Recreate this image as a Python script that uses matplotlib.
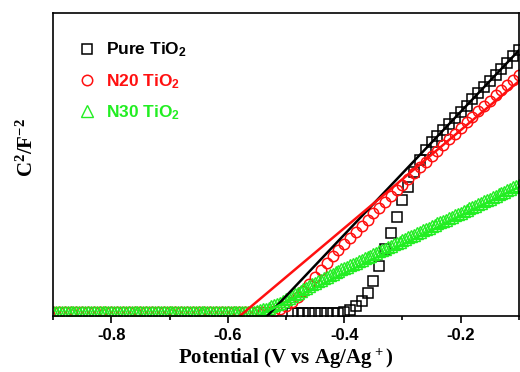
import matplotlib
matplotlib.use("Agg")
import matplotlib.pyplot as plt
import numpy as np
from matplotlib.ticker import MultipleLocator

# Mott-Schottky data (C^-2 in arbitrary units, 0..1 = axis height)
potential = np.round(np.arange(-0.90, -0.0999, 0.01), 2)          # V vs Ag/Ag+
potential_fine = np.round(np.arange(-0.90, -0.0999, 0.005), 3)

pure_v = np.round(np.arange(-0.49, -0.0999, 0.01), 2)
pure = [0.010, 0.010, 0.010, 0.010, 0.010, 0.010, 0.010, 0.010, 0.010, 0.011,
        0.020, 0.033, 0.050, 0.077, 0.116, 0.165, 0.221, 0.275, 0.328, 0.381,
        0.425, 0.475, 0.515, 0.548, 0.573, 0.593, 0.613, 0.633, 0.654, 0.674,
        0.694, 0.715, 0.735, 0.755, 0.775, 0.796, 0.816, 0.836, 0.857, 0.877]

n20 = [0.012, 0.012, 0.012, 0.012, 0.012, 0.012, 0.012, 0.012, 0.012, 0.012,
       0.012, 0.012, 0.012, 0.012, 0.012, 0.012, 0.012, 0.012, 0.012, 0.012,
       0.012, 0.012, 0.012, 0.012, 0.012, 0.012, 0.012, 0.012, 0.012, 0.012,
       0.012, 0.012, 0.012, 0.012, 0.012, 0.012, 0.012, 0.013, 0.016, 0.022,
       0.032, 0.046, 0.063, 0.083, 0.105, 0.128, 0.151, 0.174, 0.196, 0.217,
       0.238, 0.258, 0.278, 0.298, 0.318, 0.338, 0.357, 0.376, 0.395, 0.414,
       0.433, 0.452, 0.471, 0.490, 0.509, 0.527, 0.545, 0.564, 0.583, 0.602,
       0.621, 0.640, 0.658, 0.676, 0.694, 0.711, 0.728, 0.745, 0.762, 0.778,
       0.794]

n30 = [0.012] * 68 + [
    0.013, 0.014, 0.016, 0.018, 0.021, 0.024, 0.027, 0.031, 0.035, 0.040,
    0.044, 0.049, 0.054, 0.060, 0.065, 0.071, 0.076, 0.082, 0.087, 0.093,
    0.098, 0.104, 0.109, 0.114, 0.119, 0.124, 0.129, 0.134, 0.139, 0.144,
    0.148, 0.153, 0.157, 0.162, 0.167, 0.171, 0.176, 0.180, 0.185, 0.190,
    0.194, 0.199, 0.203, 0.208, 0.213, 0.217, 0.222, 0.226, 0.231, 0.236,
    0.240, 0.245, 0.249, 0.254, 0.259, 0.263, 0.268, 0.272, 0.277, 0.282,
    0.286, 0.291, 0.295, 0.300, 0.305, 0.309, 0.314, 0.318, 0.323, 0.328,
    0.332, 0.337, 0.341, 0.346, 0.351, 0.355, 0.360, 0.364, 0.369, 0.374,
    0.378, 0.383, 0.387, 0.392, 0.397, 0.401, 0.406, 0.410, 0.415, 0.420,
    0.424, 0.428, 0.433]

# linear fits: (x at C^-2 = 0, x end, y end)
fit_pure = ([-0.532, -0.10], [0.0, 0.877])
fit_n20 = ([-0.579, -0.10], [0.0, 0.775])
fit_n30 = ([-0.548, -0.10], [0.0, 0.425])

labels = ['Pure TiO$_2$', 'N20 TiO$_2$', 'N30 TiO$_2$']
c_black, c_red, c_green = 'black', '#ff1010', '#22ee22'

plt.rcParams['mathtext.default'] = 'regular'
plt.rcParams['axes.unicode_minus'] = False

fig = plt.figure(figsize=(5.2, 3.72), dpi=100)
ax = fig.add_axes([0.102, 0.151, 0.896, 0.814])

ax.plot(pure_v, pure, ls='none', marker='s', ms=7, mfc='none', mec=c_black, mew=1.1, label=labels[0])
ax.plot(potential, n20, ls='none', marker='o', ms=7.5, mfc='none', mec=c_red, mew=1.1, label=labels[1])
ax.plot(potential_fine[:len(n30)], n30, ls='none', marker='^', ms=8, mfc='none', mec=c_green, mew=1.0, label=labels[2])

ax.plot(*fit_pure, color=c_black, lw=1.8)
ax.plot(*fit_n20, color=c_red, lw=1.8)
ax.plot(*fit_n30, color=c_green, lw=1.8)

ax.set_xlim(-0.9, -0.1)
ax.set_ylim(0, 1)
ax.set_yticks([])
ax.xaxis.set_major_locator(MultipleLocator(0.2))
ax.xaxis.set_minor_locator(MultipleLocator(0.1))
ax.tick_params(axis='x', which='major', direction='out', length=5, width=1.2)
ax.tick_params(axis='x', which='minor', direction='out', length=3, width=1.2)
for lab in ax.get_xticklabels():
    lab.set_fontfamily('Liberation Sans')
    lab.set_fontweight('bold')
    lab.set_fontsize(12)
for s in ax.spines.values():
    s.set_linewidth(1.2)

ax.set_xlabel('Potential (V vs Ag/Ag$^+$)', family='Liberation Serif', weight='bold', fontsize=15, labelpad=3)
ax.set_ylabel('C$^2$/F$^{-2}$', family='Liberation Serif', weight='bold', fontsize=15)
ax.yaxis.set_label_coords(-0.033, 0.555)

leg = ax.legend(loc='upper left', bbox_to_anchor=(0.02, 0.96), frameon=False, numpoints=1,
                handlelength=1.0, handletextpad=0.6, labelspacing=0.72,
                prop={'family': 'Liberation Sans', 'weight': 'bold', 'size': 12.5})
for txt, col in zip(leg.get_texts(), [c_black, c_red, c_green]):
    txt.set_color(col)

fig.savefig('out.png', dpi=100)
